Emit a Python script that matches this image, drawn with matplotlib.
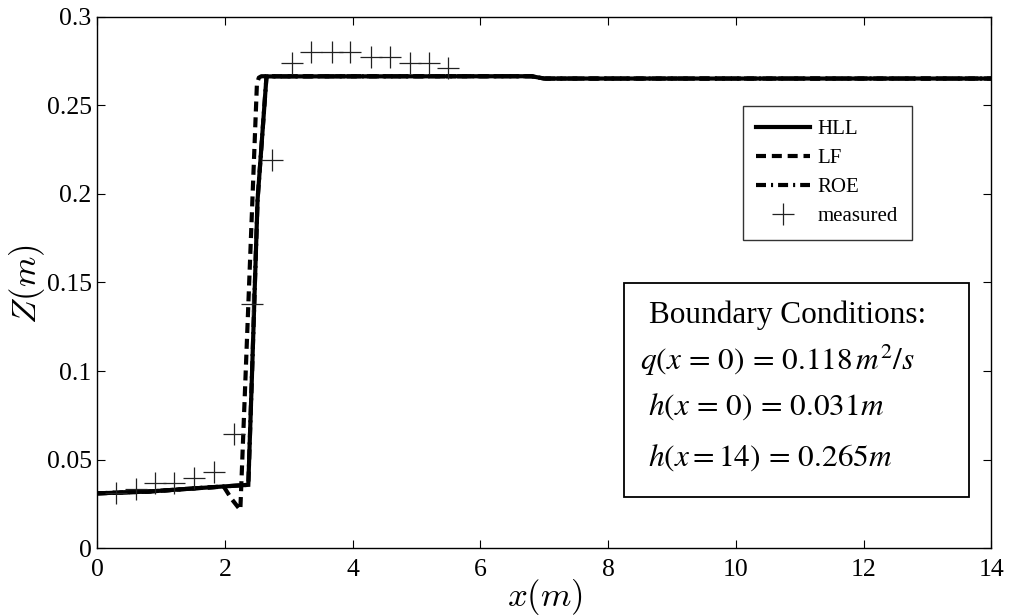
import matplotlib
matplotlib.use("Agg")
import matplotlib.pyplot as plt
from matplotlib.lines import Line2D
from matplotlib.patches import Rectangle

# ---- data -------------------------------------------------------------
# HLL scheme: water surface Z along the channel
hll_x = [0.0, 0.8, 1.6, 2.365, 2.42, 2.51, 2.65, 6.8, 7.0, 14.0]
hll_z = [0.031, 0.032, 0.034, 0.0358, 0.095, 0.1965, 0.2662, 0.2663, 0.2650, 0.2650]

# Lax-Friedrichs scheme
lf_x = [0.0, 0.8, 1.6, 1.98, 2.10, 2.24, 2.50, 2.53, 2.57, 6.8, 7.0, 14.0]
lf_z = [0.031, 0.032, 0.034, 0.0348, 0.028, 0.0216, 0.2620, 0.2655, 0.2663, 0.2663, 0.2650, 0.2650]

# Roe scheme
roe_x = [0.0, 0.8, 1.6, 2.365, 2.42, 2.51, 2.65, 6.8, 7.0, 14.0]
roe_z = [0.031, 0.032, 0.034, 0.0358, 0.095, 0.1965, 0.2662, 0.2663, 0.2650, 0.2650]

# laboratory measurements
meas_x = [0.30, 0.60, 0.91, 1.20, 1.51, 1.82, 2.14, 2.43, 2.74,
          3.05, 3.35, 3.67, 3.96, 4.28, 4.58, 4.89, 5.19, 5.50]
meas_z = [0.031, 0.0335, 0.0367, 0.0367, 0.0395, 0.0428, 0.0646, 0.138, 0.219,
          0.274, 0.280, 0.280, 0.280, 0.2773, 0.2773, 0.274, 0.274, 0.2708]

series_labels = ["HLL", "LF", "ROE", "measured"]

x_ticks = [0, 2, 4, 6, 8, 10, 12, 14]
x_ticklabels = ["0", "2", "4", "6", "8", "10", "12", "14"]
y_ticks = [0, 0.05, 0.1, 0.15, 0.2, 0.25, 0.3]
y_ticklabels = ["0", "0.05", "0.1", "0.15", "0.2", "0.25", "0.3"]

bc_title = "Boundary Conditions:"
bc_lines = [r"$q\left(x\,=\,0\right)\,=\,0.118\,m^{2}/s$",
            r"$h\left(x\,=\,0\right)\,=\,0.031m$",
            r"$h(x=14)\,=\,0.265m$"]

# ---- figure -----------------------------------------------------------
W, H = 1011, 616
plt.rcParams["font.family"] = ["Liberation Serif", "DejaVu Serif"]

fig = plt.figure(figsize=(W / 100, H / 100), dpi=100)
fig.patch.set_facecolor("white")

L, R, T, B = 97.3, 991.2, 16.5, 548.3
ax = fig.add_axes([L / W, 1 - B / H, (R - L) / W, (B - T) / H])

lw = 3.0
dash = (0, (2.4, 1.4))
dashdot = (0, (2.4, 1.2, 0.5, 1.2))

ax.plot(roe_x, roe_z, color="black", lw=lw, linestyle=dashdot, zorder=2)
ax.plot(lf_x, lf_z, color="black", lw=lw, linestyle=dash, zorder=3)
ax.plot(hll_x, hll_z, color="black", lw=lw, linestyle="-", zorder=4,
        solid_joinstyle="miter")
ax.plot(meas_x, meas_z, linestyle="none", marker="+", markersize=16,
        markeredgewidth=0.9, color="#222222", zorder=5)

ax.set_xlim(0, 14)
ax.set_ylim(0, 0.3)
ax.set_xticks(x_ticks)
ax.set_xticklabels(x_ticklabels)
ax.set_yticks(y_ticks)
ax.set_yticklabels(y_ticklabels)
ax.tick_params(direction="in", length=6, width=0.8, top=True, right=True,
               labelsize=18.5, colors="black")
ax.tick_params(axis="x", pad=8)
ax.tick_params(axis="y", pad=4)
for sp in ax.spines.values():
    sp.set_linewidth(1.0)

# axis labels
fig.text(545 / W, 1 - 597 / H, r"$x(m)$", ha="center", va="center",
         fontsize=25, math_fontfamily="cm")
fig.text(27 / W, 1 - 284 / H, r"$Z(m)$", ha="center", va="center",
         rotation=90, fontsize=25, math_fontfamily="cm")

# legend
handles = [
    Line2D([], [], color="black", lw=lw, linestyle="-"),
    Line2D([], [], color="black", lw=lw, linestyle=dash),
    Line2D([], [], color="black", lw=lw, linestyle=dashdot),
    Line2D([], [], color="#222222", linestyle="none", marker="+",
           markersize=16, markeredgewidth=0.9),
]
leg = fig.legend(handles, series_labels, loc="upper left",
                 bbox_to_anchor=(742.7 / W, 1 - 106 / H),
                 bbox_transform=fig.transFigure, borderaxespad=0,
                 fontsize=15, frameon=True, fancybox=False,
                 handlelength=2.6, handletextpad=0.35, labelspacing=0.45,
                 borderpad=0.65)
leg.get_frame().set_edgecolor("black")
leg.get_frame().set_linewidth(1.0)

# boundary-condition box
bx0, bx1, by0, by1 = 624, 969, 283, 497
fig.add_artist(Rectangle((bx0 / W, 1 - by1 / H), (bx1 - bx0) / W, (by1 - by0) / H,
                         transform=fig.transFigure, facecolor="white",
                         edgecolor="black", linewidth=1.3, zorder=6))
fig.text(649 / W, 1 - 315 / H, bc_title, ha="left", va="center",
         fontsize=22.5, zorder=7)
for (tx, ty), s in zip([(640, 360), (648, 407), (648, 458)], bc_lines):
    fig.text(tx / W, 1 - ty / H, s, ha="left", va="center", fontsize=22.5,
             math_fontfamily="stix", zorder=7)

fig.savefig("out.png", dpi=100, facecolor="white")
